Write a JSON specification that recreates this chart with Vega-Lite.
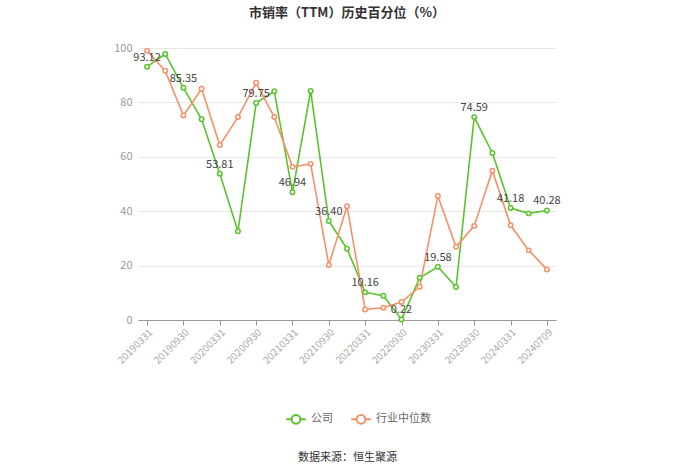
{
  "$schema": "https://vega.github.io/schema/vega-lite/v6.json",
  "width": 418,
  "height": 272,
  "autosize": {"type": "none"},
  "padding": {"left": 138, "top": 48, "right": 144, "bottom": 154},
  "background": "white",
  "config": {
    "font": "Noto Sans CJK SC",
    "view": {"stroke": null}
  },
  "title": {
    "text": "市销率（TTM）历史百分位（%）",
    "fontSize": 13,
    "fontWeight": "bold",
    "color": "#333333",
    "anchor": "middle",
    "offset": 22
  },
  "data": {
    "values": [
      {"d": "20190331", "s": "公司", "v": 93.12, "label": "93.12"},
      {"d": "20190630", "s": "公司", "v": 97.8},
      {"d": "20190930", "s": "公司", "v": 85.35, "label": "85.35"},
      {"d": "20191231", "s": "公司", "v": 73.8},
      {"d": "20200331", "s": "公司", "v": 53.81, "label": "53.81"},
      {"d": "20200630", "s": "公司", "v": 32.6},
      {"d": "20200930", "s": "公司", "v": 79.75, "label": "79.75"},
      {"d": "20201231", "s": "公司", "v": 84.1},
      {"d": "20210331", "s": "公司", "v": 46.94, "label": "46.94"},
      {"d": "20210630", "s": "公司", "v": 84.2},
      {"d": "20210930", "s": "公司", "v": 36.40, "label": "36.40"},
      {"d": "20211231", "s": "公司", "v": 26.2},
      {"d": "20220331", "s": "公司", "v": 10.16, "label": "10.16"},
      {"d": "20220630", "s": "公司", "v": 8.9},
      {"d": "20220930", "s": "公司", "v": 0.22, "label": "0.22"},
      {"d": "20221231", "s": "公司", "v": 15.5},
      {"d": "20230331", "s": "公司", "v": 19.58, "label": "19.58"},
      {"d": "20230630", "s": "公司", "v": 12.1},
      {"d": "20230930", "s": "公司", "v": 74.59, "label": "74.59"},
      {"d": "20231231", "s": "公司", "v": 61.4},
      {"d": "20240331", "s": "公司", "v": 41.18, "label": "41.18"},
      {"d": "20240630", "s": "公司", "v": 39.2},
      {"d": "20240709", "s": "公司", "v": 40.28, "label": "40.28"},
      {"d": "20190331", "s": "行业中位数", "v": 99.0},
      {"d": "20190630", "s": "行业中位数", "v": 91.6},
      {"d": "20190930", "s": "行业中位数", "v": 75.2},
      {"d": "20191231", "s": "行业中位数", "v": 85.0},
      {"d": "20200331", "s": "行业中位数", "v": 64.3},
      {"d": "20200630", "s": "行业中位数", "v": 74.6},
      {"d": "20200930", "s": "行业中位数", "v": 87.2},
      {"d": "20201231", "s": "行业中位数", "v": 74.6},
      {"d": "20210331", "s": "行业中位数", "v": 56.3},
      {"d": "20210630", "s": "行业中位数", "v": 57.4},
      {"d": "20210930", "s": "行业中位数", "v": 20.2},
      {"d": "20211231", "s": "行业中位数", "v": 41.8},
      {"d": "20220331", "s": "行业中位数", "v": 3.9},
      {"d": "20220630", "s": "行业中位数", "v": 4.5},
      {"d": "20220930", "s": "行业中位数", "v": 6.6},
      {"d": "20221231", "s": "行业中位数", "v": 12.2},
      {"d": "20230331", "s": "行业中位数", "v": 45.6},
      {"d": "20230630", "s": "行业中位数", "v": 26.9},
      {"d": "20230930", "s": "行业中位数", "v": 34.6},
      {"d": "20231231", "s": "行业中位数", "v": 54.9},
      {"d": "20240331", "s": "行业中位数", "v": 34.8},
      {"d": "20240630", "s": "行业中位数", "v": 25.6},
      {"d": "20240709", "s": "行业中位数", "v": 18.6}
    ]
  },
  "encoding": {
    "x": {
      "field": "d",
      "type": "ordinal",
      "sort": null,
      "scale": {"type": "point", "padding": 0.5},
      "axis": {
        "values": ["20190331", "20190930", "20200331", "20200930", "20210331", "20210930", "20220331", "20220930", "20230331", "20230930", "20240331", "20240709"],
        "labelAngle": -45,
        "labelAlign": "right",
        "labelBaseline": "top",
        "labelColor": "#aaaaaa",
        "labelFontSize": 10,
        "labelPadding": 2,
        "domainColor": "#999999",
        "tickColor": "#999999",
        "tickSize": 5,
        "grid": false,
        "title": "数据来源：恒生聚源",
        "titleFontWeight": "normal",
        "titleFontSize": 11,
        "titleColor": "#333333",
        "titleBaseline": "middle",
        "titleY": 137
      }
    },
    "y": {
      "field": "v",
      "type": "quantitative",
      "scale": {"domain": [0, 100], "nice": false},
      "axis": {
        "values": [0, 20, 40, 60, 80, 100],
        "title": null,
        "domain": false,
        "ticks": false,
        "labelColor": "#999999",
        "labelFontSize": 11,
        "labelPadding": 6,
        "gridColor": "#e8e8e8"
      }
    },
    "color": {
      "field": "s",
      "type": "nominal",
      "scale": {"domain": ["公司", "行业中位数"], "range": ["#5ac32b", "#f69068"]},
      "legend": {
        "title": null,
        "orient": "none",
        "direction": "horizontal",
        "legendX": 147,
        "legendY": 360,
        "labelColor": "#666666",
        "labelFontSize": 11,
        "columnPadding": 14,
        "symbolType": "M-1,0L-0.45,0M0.45,0L1,0M-0.45,0A0.45,0.45,0,1,0,0.45,0A0.45,0.45,0,1,0,-0.45,0",
        "symbolSize": 380,
        "symbolStrokeWidth": 2,
        "encode": {"symbols": {"update": {"fill": {"value": "white"}, "fillOpacity": {"value": 1}}}}
      }
    }
  },
  "layer": [
    {"mark": {"type": "line", "strokeWidth": 1.6}},
    {"mark": {"type": "point", "filled": false, "fill": "white", "fillOpacity": 1, "size": 20, "strokeWidth": 1.5, "opacity": 1}},
    {
      "transform": [{"filter": "datum.label != null"}],
      "mark": {"type": "text", "dy": -9, "fontSize": 11, "color": "#444444"},
      "encoding": {"text": {"field": "label"}, "color": {"value": "#444444"}}
    }
  ]
}
